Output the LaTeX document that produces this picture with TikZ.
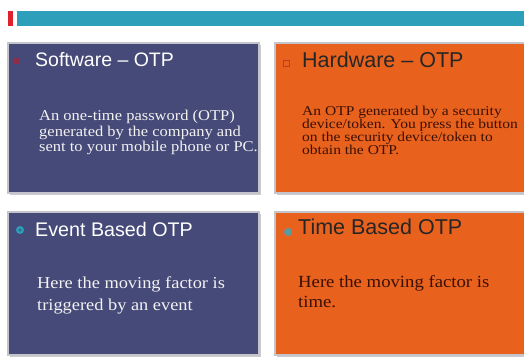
\documentclass[tikz,border=0pt]{standalone}
\usepackage{fontspec}
\setmainfont{Liberation Serif}
\setsansfont{Liberation Sans}
\newfontfamily\bodyserif[FakeStretch=1.1]{Liberation Serif}
\newfontfamily\bodyserifwide[FakeStretch=1.15]{Liberation Serif}
\definecolor{boxnavy}{HTML}{464A78}
\definecolor{boxorange}{HTML}{E8621E}
\definecolor{barteal}{HTML}{2E9FBA}
\definecolor{barred}{HTML}{E0202A}
\definecolor{darktxt}{HTML}{3A1005}
\definecolor{lighttxt}{HTML}{F2F2F2}
\definecolor{boxedge}{HTML}{C4C4CC}
\definecolor{shade}{HTML}{9A9AA0}
\definecolor{bulletsq}{HTML}{8B2E4A}
\definecolor{bulletred}{HTML}{C0392B}
\definecolor{bulletdark}{HTML}{286E8C}
\definecolor{bulletgrey}{HTML}{5A9AA0}
\tikzset{
  panel/.style={draw=boxedge, line width=1.5pt},
  panelshadow/.style={fill=shade, opacity=0.5},
  titletext/.style={inner sep=0pt, anchor=base west, font=\sffamily},
  bodytext/.style={inner sep=0pt, anchor=base west, align=left},
}
\begin{document}
\begin{tikzpicture}[x=1pt,y=-1pt]
\useasboundingbox (0,0) rectangle (524,358);
\clip (0,0) rectangle (524,358);
\fill[white] (0,0) rectangle (524,358);
% top bar
\fill[barred] (8,11) rectangle (13,26);
\fill[barteal] (17,11) rectangle (530,26);
% shadows
\fill[panelshadow] (10,45) rectangle (261,195);
\fill[panelshadow] (277,45) rectangle (532,195);
\fill[panelshadow] (10,214) rectangle (261,357);
\fill[panelshadow] (277,214) rectangle (532,357);
% panels
\filldraw[panel, fill=boxnavy] (8,43) rectangle (259,193);
\filldraw[panel, fill=boxorange] (275,43) rectangle (530,193);
\filldraw[panel, fill=boxnavy] (8,212) rectangle (259,355);
\filldraw[panel, fill=boxorange] (275,212) rectangle (530,355);
% bullets
\fill[bulletsq] (14,58) rectangle (20,64);
\draw[bulletred, line width=0.8pt] (283,60) rectangle (289,66);
\fill[barteal] (20,230) circle (4);
\fill[bulletdark] (20,230) circle (1.6);
\fill[bulletgrey] (288,232) circle (4);
% titles
\node[titletext, text=white, font=\sffamily\fontsize{19.5}{22}\selectfont] (t1) at (35,67) {Software – OTP};
\node[titletext, text=black!85, font=\sffamily\fontsize{21.5}{24}\selectfont] (t2) at (302,68) {Hardware – OTP};
\node[titletext, text=white, font=\sffamily\fontsize{19.7}{22}\selectfont] (t3) at (35,236) {Event Based OTP};
\node[titletext, text=black!85, font=\sffamily\fontsize{21.5}{24}\selectfont] (t4) at (298,234) {Time Based OTP};
% bodies (anchor = baseline of the last line)
\node[bodytext, text=lighttxt, font=\bodyserif\fontsize{15}{15.5}\selectfont] (b1) at (39,152)
  {An one-time password (OTP)\\generated by the company and\\sent to your mobile phone or PC.};
\node[bodytext, text=darktxt, font=\bodyserifwide\fontsize{13.5}{13.2}\selectfont] (b2) at (302,155)
  {An OTP generated by a security\\device/token. You press the button\\on the security device/token to\\obtain the OTP.};
\node[bodytext, text=lighttxt, font=\bodyserif\fontsize{16.7}{22}\selectfont] (b3) at (37,310)
  {Here the moving factor is\\triggered by an event};
\node[bodytext, text=darktxt, font=\bodyserif\fontsize{17}{20}\selectfont] (b4) at (298,307)
  {Here the moving factor is\\time.};
\end{tikzpicture}
\end{document}
